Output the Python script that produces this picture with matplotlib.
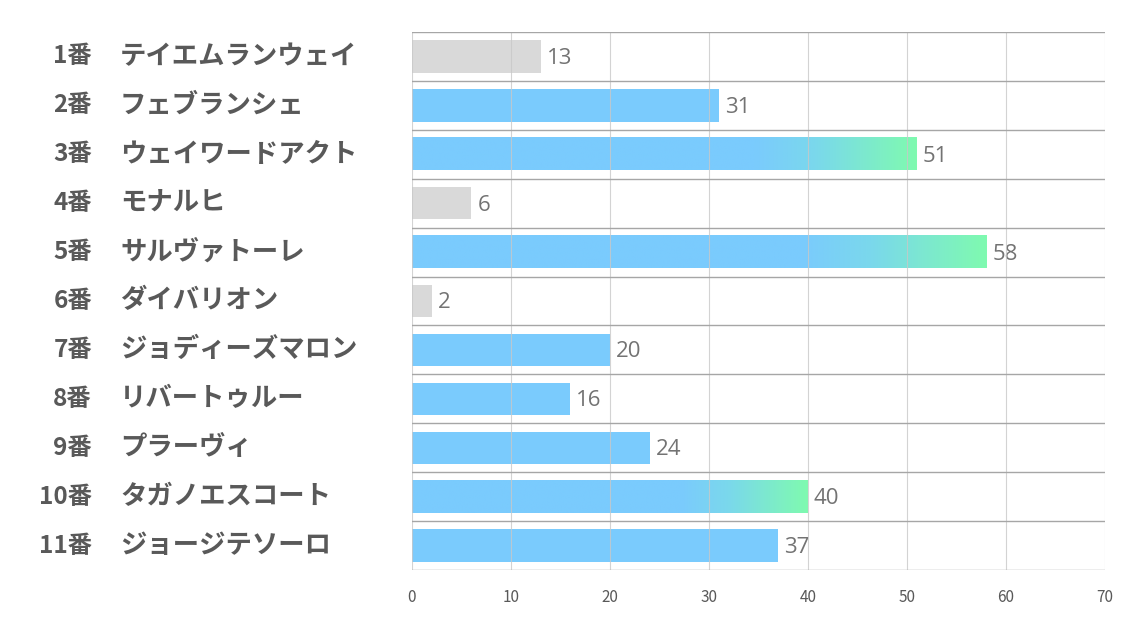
import numpy as np
import matplotlib.pyplot as plt
from matplotlib.colors import LinearSegmentedColormap

numbers = ['1番', '2番', '3番', '4番', '5番', '6番', '7番', '8番', '9番', '10番', '11番']
names = ['テイエムランウェイ', 'フェブランシェ', 'ウェイワードアクト', 'モナルヒ', 'サルヴァトーレ',
         'ダイバリオン', 'ジョディーズマロン', 'リバートゥルー', 'プラーヴィ', 'タガノエスコート',
         'ジョージテソーロ']
values = [13, 31, 51, 6, 58, 2, 20, 16, 24, 40, 37]
kinds = ['gray', 'blue', 'grad', 'gray', 'grad', 'gray', 'blue', 'blue', 'blue', 'grad', 'blue']

BLUE = '#7acbfd'
GRAY = '#d9d9d9'
GREEN = '#7ffab0'
plt.rcParams['font.family'] = ['Noto Sans CJK JP', 'DejaVu Sans']

fig = plt.figure(figsize=(11.34, 6.23), dpi=100)
ax = fig.add_axes([412/1134, 1 - 570/623, (1105-412)/1134, (570-32)/623])

n = len(values)
ys = np.arange(n)
h = 0.66
cmap = LinearSegmentedColormap.from_list('g', [(0, BLUE), (0.68, BLUE), (0.8, '#7ad8ec'), (1.0, GREEN)])
grad = np.linspace(0, 1, 256).reshape(1, -1)

for y, v, k in zip(ys, values, kinds):
    if k == 'grad':
        ax.imshow(grad, cmap=cmap, aspect='auto', extent=[0, v, y + h/2, y - h/2], zorder=2, interpolation='bilinear')
    else:
        ax.barh(y, v, height=h, color=GRAY if k == 'gray' else BLUE, zorder=2)
    ax.text(v + 0.6, y + 0.04, str(v), va='center', ha='left', fontsize=16, color='#737373',
            family=['Open Sans', 'DejaVu Sans'])

ax.set_xlim(0, 70)
ax.set_ylim(n - 0.5, -0.5)
ax.set_xticks(range(0, 71, 10))
for x in range(0, 71, 10):
    ax.axvline(x, color='#c8c8c8', lw=0.8, alpha=0.8, zorder=3)
for b in np.arange(-0.5, n, 1.0):
    ax.axhline(b, color='#a6a6a6', lw=1.0, zorder=3)
ax.set_yticks([])
for s in ax.spines.values():
    s.set_visible(False)
ax.tick_params(axis='x', length=0, pad=14, labelsize=11, labelcolor='#595959')

for y, num, name in zip(ys, numbers, names):
    ax.text(-320/693*70, y, num, ha='right', va='center', fontsize=17.5, fontweight='bold',
            color='#595959', transform=ax.transData, clip_on=False)
    ax.text(-292/693*70, y, name, ha='left', va='center', fontsize=19, fontweight='bold',
            color='#595959', transform=ax.transData, clip_on=False)

fig.savefig('out.png', dpi=100)
